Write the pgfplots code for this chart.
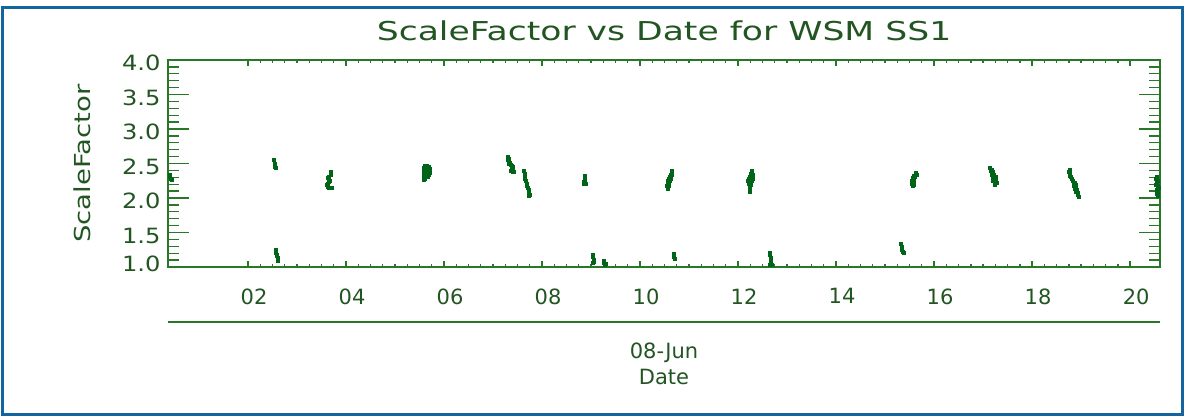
\documentclass[border=0pt]{standalone}
\usepackage{fontspec}
\setmainfont{DejaVu Sans}
\usepackage{pgfplots}
\pgfplotsset{compat=1.18}
\definecolor{txtgreen}{RGB}{35,85,35}
\definecolor{axgreen}{RGB}{40,120,40}
\definecolor{datgreen}{RGB}{0,100,25}
\definecolor{frameblue}{RGB}{20,100,160}
\pgfplotsset{
  frame/.style={
    at={(168pt,149pt)}, anchor=south west,
    scale only axis, width=992pt, height=207pt,
    xmin=0.367, xmax=20.61, ymin=1, ymax=4,
    axis line style={axgreen, line width=1.8pt},
    tick style={axgreen, line width=1.3pt},
    tick align=inside,
    xtick={2,4,...,20},
    minor x tick num=7,
    ytick={1,1.5,...,4},
    minor y tick num=4,
  },
  dat/.style={color=datgreen, only marks, mark=square*, mark size=1.5pt,
    mark options={fill=datgreen, draw=datgreen, line width=0pt}},
}
\begin{document}
\begin{tikzpicture}[x=1pt,y=1pt]
\useasboundingbox (0,0) rectangle (1185,416);
\fill[white] (0,0) rectangle (1185,416);
\draw[frameblue, line width=3pt] (2,1.5) rectangle (1182.5,408.5);
% second axis: only the long y ticks
\begin{axis}[
  frame,
  hide x axis,
  yticklabels={},
  major tick length=21pt, minor tick length=11pt,
]
\end{axis}
\begin{axis}[
  frame,
  name=ax,
  major tick length=6pt, minor tick length=3pt,
  major y tick style={draw=none},
  minor y tick style={draw=none},
  xticklabels={02,04,06,08,10,12,14,16,18,20},
  yticklabels={{\raisebox{12pt}{1.0}},1.5,2.0,2.5,3.0,3.5,{\raisebox{-8pt}{4.0}}},
  xticklabel style={font=\fontsize{21}{24}\selectfont, text=txtgreen, yshift=-18pt, xshift=6pt},
  yticklabel style={font=\fontsize{21}{24}\selectfont, text=txtgreen, xscale=1.15, anchor=east, xshift=-3pt, yshift=-3pt},
  title={ScaleFactor vs Date for WSM SS1},
  title style={font=\fontsize{26}{30}\selectfont, text=txtgreen, at={(axis description cs:0.5,1)}, anchor=center, yshift=23pt, xscale=1.33},
  ylabel={ScaleFactor},
  ylabel style={font=\fontsize{22}{26}\selectfont, text=txtgreen, at={(axis description cs:-0.0867,0.5)}, anchor=center, xscale=1.25},
  xlabel={08-Jun\\Date},
  xlabel style={font=\fontsize{21}{26}\selectfont, text=txtgreen, align=center, at={(axis description cs:0.5,-0.367)}, anchor=north, inner sep=0pt},
]
% cluster at left edge
\addplot[dat] coordinates {(0.40,2.33) (0.40,2.30) (0.42,2.28) (0.44,2.26)};
% day 2.5
\addplot[dat] coordinates {(2.54,2.55) (2.55,2.49) (2.55,2.47) (2.56,2.45) (2.57,2.43)};
\addplot[dat] coordinates {(2.58,1.24) (2.58,1.21) (2.59,1.18) (2.60,1.16) (2.61,1.13) (2.61,1.10) (2.62,1.08)};
% day 3.6
\addplot[dat] coordinates {(3.70,2.37) (3.69,2.34) (3.66,2.31) (3.64,2.29) (3.65,2.27) (3.67,2.25) (3.65,2.23) (3.63,2.21) (3.62,2.19) (3.63,2.16) (3.66,2.15) (3.70,2.14) (3.72,2.15)};
% day 5.6
\addplot[dat] coordinates {(5.62,2.46) (5.66,2.46) (5.70,2.45) (5.60,2.43) (5.64,2.43) (5.68,2.43) (5.72,2.42) (5.60,2.40) (5.64,2.40) (5.68,2.40) (5.72,2.39) (5.60,2.37) (5.64,2.37) (5.68,2.37) (5.71,2.36) (5.59,2.34) (5.63,2.34) (5.67,2.34) (5.70,2.33) (5.59,2.31) (5.63,2.31) (5.67,2.31) (5.59,2.28) (5.62,2.28) (5.60,2.26)};
% day 7.3
\addplot[dat] coordinates {(7.30,2.59) (7.32,2.57) (7.31,2.55) (7.33,2.53) (7.35,2.51) (7.32,2.50) (7.36,2.48) (7.39,2.47) (7.41,2.45) (7.40,2.43) (7.38,2.41) (7.37,2.39) (7.40,2.37) (7.43,2.38)};
\addplot[dat] coordinates {(7.64,2.39) (7.65,2.35) (7.66,2.31) (7.66,2.27) (7.67,2.24) (7.69,2.21) (7.70,2.18) (7.72,2.14) (7.73,2.11) (7.74,2.08) (7.75,2.05) (7.74,2.03)};
% day 8.9 - 9.3
\addplot[dat] coordinates {(8.88,2.32) (8.88,2.29) (8.87,2.26) (8.86,2.23) (8.85,2.21) (8.89,2.21)};
\addplot[dat] coordinates {(9.04,1.18) (9.04,1.14) (9.05,1.10) (9.06,1.07) (9.03,1.06)};
\addplot[dat] coordinates {(9.26,1.09) (9.27,1.06) (9.29,1.03) (9.31,1.04)};
% day 10.6
\addplot[dat] coordinates {(10.66,2.39) (10.65,2.36) (10.63,2.33) (10.66,2.33) (10.61,2.30) (10.64,2.30) (10.60,2.27) (10.63,2.27) (10.58,2.24) (10.62,2.24) (10.56,2.21) (10.60,2.21) (10.55,2.18) (10.59,2.18) (10.57,2.16) (10.56,2.13)};
\addplot[dat] coordinates {(10.69,1.19) (10.70,1.14) (10.71,1.11)};
% day 12.3
\addplot[dat] coordinates {(12.28,2.39) (12.27,2.35) (12.30,2.33) (12.25,2.31) (12.29,2.29) (12.22,2.27) (12.26,2.27) (12.31,2.27) (12.20,2.24) (12.24,2.24) (12.28,2.24) (12.22,2.21) (12.26,2.19) (12.25,2.16) (12.24,2.13) (12.24,2.09)};
\addplot[dat] coordinates {(12.66,1.21) (12.66,1.17) (12.67,1.13) (12.67,1.09) (12.68,1.06) (12.70,1.03) (12.66,1.03)};
% day 15.4
\addplot[dat] coordinates {(15.33,1.33) (15.34,1.29) (15.35,1.25) (15.37,1.22) (15.38,1.20)};
\addplot[dat] coordinates {(15.63,2.36) (15.66,2.34) (15.58,2.32) (15.62,2.31) (15.56,2.29) (15.60,2.28) (15.55,2.25) (15.59,2.24) (15.55,2.21) (15.58,2.19) (15.56,2.18)};
% day 17.2
\addplot[dat] coordinates {(17.15,2.43) (17.18,2.41) (17.16,2.39) (17.20,2.37) (17.19,2.34) (17.22,2.33) (17.20,2.30) (17.26,2.31) (17.22,2.27) (17.27,2.27) (17.21,2.24) (17.25,2.23) (17.28,2.22) (17.24,2.19)};
% day 18.8
\addplot[dat] coordinates {(18.77,2.41) (18.76,2.38) (18.78,2.35) (18.77,2.32) (18.80,2.30) (18.82,2.27) (18.84,2.24) (18.87,2.22) (18.85,2.20) (18.89,2.19) (18.86,2.17) (18.90,2.16) (18.88,2.13) (18.92,2.12) (18.90,2.09) (18.94,2.07) (18.93,2.04) (18.95,2.02)};
% day 20.5
\addplot[dat] coordinates {(20.55,2.30) (20.53,2.27) (20.57,2.25) (20.55,2.22) (20.52,2.19) (20.56,2.18) (20.58,2.15) (20.54,2.12) (20.57,2.09) (20.55,2.06) (20.56,2.03)};
\end{axis}
\draw[axgreen, line width=1.8pt] ([yshift=-55pt]ax.south west) -- ([yshift=-55pt]ax.south east);
\end{tikzpicture}
\end{document}
